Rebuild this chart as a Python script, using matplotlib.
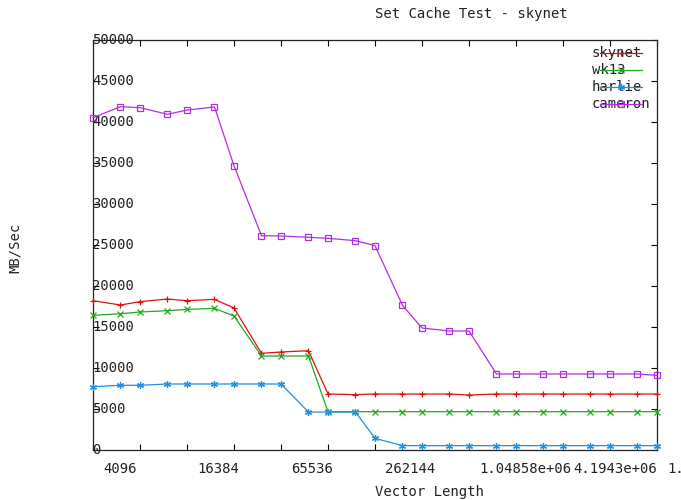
import matplotlib
matplotlib.use('Agg')
import matplotlib.pyplot as plt
from matplotlib.lines import Line2D
from matplotlib.transforms import ScaledTranslation, blended_transform_factory

# vector lengths tested (bytes)
vector_len = [2048, 3072, 4096, 6144, 8192, 12288, 16384, 24576, 32768, 49152,
              65536, 98304, 131072, 196608, 262144, 393216, 524288, 786432,
              1048576, 1572864, 2097152, 3145728, 4194304, 6291456, 8388608]

# bandwidth per host, MB/Sec
skynet = [18210, 17680, 18090, 18410, 18210, 18370, 17320, 11790, 11950, 12110,
          6830, 6750, 6830, 6830, 6830, 6830, 6700, 6830, 6830, 6830,
          6830, 6830, 6830, 6830, 6830]
wk13 = [16420, 16620, 16830, 16990, 17150, 17270, 16340, 11460, 11460, 11460,
        4670, 4670, 4670, 4670, 4670, 4670, 4670, 4670, 4670, 4670,
        4670, 4670, 4670, 4670, 4670]
harlie = [7720, 7890, 7890, 8050, 8050, 8050, 8050, 8050, 8050, 4630,
          4630, 4630, 1420, 530, 530, 530, 530, 530, 530, 530,
          530, 530, 530, 530, 530]
cameron = [40520, 41870, 41750, 40940, 41460, 41830, 34670, 26130, 26100, 25940,
           25810, 25530, 24920, 17640, 14880, 14510, 14510, 9270, 9270, 9270,
           9270, 9270, 9270, 9270, 9100]

hosts = ['skynet', 'wk13', 'harlie', 'cameron']
series = [skynet, wk13, harlie, cameron]
colors = ['#e01010', '#20a820', '#2090e0', '#b030e0']
markers = ['+', 'x', (6, 2, 0), 's']

y_ticks = list(range(0, 50001, 5000))
x_ticks = [2 ** k for k in range(11, 24)]
x_labels = [2 ** k for k in range(12, 25, 2)]

font = {'family': 'DejaVu Sans Mono', 'size': 10, 'color': '#222222'}

fig = plt.figure(figsize=(6.81, 5.0), dpi=100)
ax = fig.add_axes([93 / 681, 50 / 500, 564 / 681, 410 / 500])

for name, vals, col, mk in zip(hosts, series, colors, markers):
    ax.plot(vector_len, vals, color=col, lw=0.9, marker=mk, markersize=5,
            markerfacecolor='none', markeredgecolor=col, markeredgewidth=0.9,
            clip_on=False, zorder=3)

ax.set_xscale('log', base=2)
ax.set_xlim(2048, 8388608)
ax.set_ylim(0, 50000)
ax.set_xticks(x_ticks)
ax.xaxis.set_minor_locator(matplotlib.ticker.NullLocator())
ax.set_yticks(y_ticks)
ax.set_xticklabels([])
ax.set_yticklabels([])
ax.tick_params(direction='in', length=4, width=0.8, top=True, right=True)
for s in ax.spines.values():
    s.set_linewidth(0.9)
    s.set_color('#222222')

# gnuplot-style tick labels: x labels shifted left of the tick, y labels sit on the axis
xt = blended_transform_factory(ax.transData, ax.transAxes)
xt = xt + ScaledTranslation(-37 / 100, -12 / 100, fig.dpi_scale_trans)
for v in x_labels:
    ax.text(v, 0, '%g' % v, transform=xt, ha='left', va='top',
            clip_on=False, **font)
yt = blended_transform_factory(ax.transAxes, ax.transData)
yt = yt + ScaledTranslation(-1 / 100, 0, fig.dpi_scale_trans)
for v in y_ticks:
    ax.text(0, v, str(v), transform=yt, ha='left', va='center',
            clip_on=False, **font)

fig.text(471 / 681, 1 - 14 / 500, 'Set Cache Test - skynet', ha='center',
         va='center', **font)
fig.text(429 / 681, 1 - 492 / 500, 'Vector Length', ha='center',
         va='center', **font)
fig.text(15 / 681, 1 - 248 / 500, 'MB/Sec', ha='center', va='center',
         rotation=90, **font)

# key in the top right corner, samples drawn over the names
for i, (name, col, mk) in enumerate(zip(hosts, colors, markers)):
    yk = 1 - (53 + 17 * i) / 500
    fig.text(592 / 681, yk, name, ha='left', va='center', zorder=4, **font)
    fig.add_artist(Line2D([600 / 681, 621 / 681, 642 / 681], [yk] * 3,
                          transform=fig.transFigure, color=col, lw=0.9,
                          marker=mk, markevery=[1], markersize=5,
                          markerfacecolor='none', markeredgecolor=col,
                          markeredgewidth=0.9, zorder=5))

fig.savefig('out.png', dpi=100)
